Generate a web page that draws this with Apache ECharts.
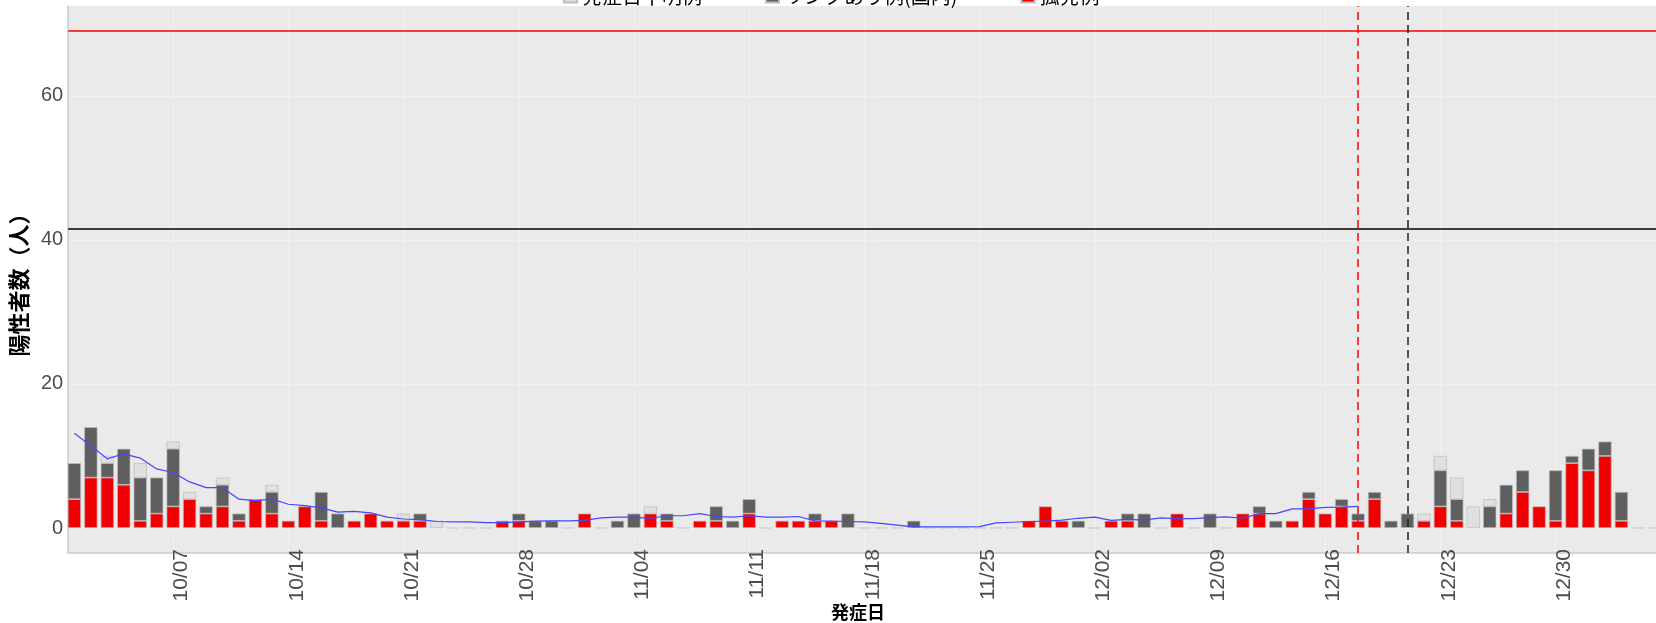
<!DOCTYPE html>
<html>
<head>
<meta charset="utf-8">
<script src="https://cdn.jsdelivr.net/npm/echarts@6/dist/echarts.min.js"></script>
<style>
html, body { margin: 0; padding: 0; background: #fff; overflow: hidden; width: 1656px; height: 623px; }
#chart { position: absolute; left: 0; top: -30px; width: 1700px; height: 653px; }
</style>
</head>
<body>
<div id="chart"></div>
<script>
// day index 0 = 10/01, one value per day
var sporadic = [
    4, 7, 7, 6, 1, 2, 3, 4, 2, 3,
    1, 4, 2, 1, 3, 1, 0, 1, 2, 1,
    1, 1, 0, 0, 0, 0, 1, 1, 0, 0,
    0, 2, 0, 0, 0, 2, 1, 0, 1, 1,
    0, 2, 0, 1, 1, 1, 1, 0, 0, 0,
    0, 0, 0, 0, 0, 0, 0, 0, 1, 3,
    1, 0, 0, 1, 1, 0, 0, 2, 0, 0,
    0, 2, 2, 0, 1, 4, 2, 3, 1, 4,
    0, 0, 1, 3, 1, 0, 0, 2, 5, 3,
    1, 9, 8, 10, 1, 0, 0
];
var linked = [
    5, 7, 2, 5, 6, 5, 8, 0, 1, 3,
    1, 0, 3, 0, 0, 4, 2, 0, 0, 0,
    0, 1, 0, 0, 0, 0, 0, 1, 1, 1,
    0, 0, 0, 1, 2, 0, 1, 0, 0, 2,
    1, 2, 0, 0, 0, 1, 0, 2, 0, 0,
    0, 1, 0, 0, 0, 0, 0, 0, 0, 0,
    0, 1, 0, 0, 1, 2, 0, 0, 0, 2,
    0, 0, 1, 1, 0, 1, 0, 1, 1, 1,
    1, 2, 0, 5, 3, 0, 3, 4, 3, 0,
    7, 1, 3, 2, 4, 0, 0
];
var unknown = [
    0, 0, 1, 0, 2, 0, 1, 1, 0, 1,
    0, 0, 1, 0, 0, 0, 0, 0, 0, 0,
    1, 0, 1, 0, 0, 0, 0, 0, 0, 0,
    0, 0, 0, 0, 0, 1, 0, 0, 0, 0,
    0, 0, 0, 0, 0, 0, 0, 0, 0, 0,
    0, 0, 0, 0, 0, 0, 0, 0, 0, 0,
    0, 0, 0, 0, 0, 0, 0, 0, 0, 0,
    0, 0, 0, 0, 0, 0, 0, 0, 0, 0,
    0, 0, 1, 2, 3, 3, 1, 0, 0, 0,
    0, 0, 0, 0, 0, 0, 0
];
var movingAvg = [
    13.15, 11.4, 9.6, 10.3, 9.7, 8.2, 7.7, 6.4, 5.6, 5.6,
    4.0, 3.8, 4.0, 3.3, 3.1, 2.8, 2.2, 2.3, 2.1, 1.5,
    1.25, 1.15, 0.9, 0.85, 0.85, 0.75, 0.75, 0.85, 0.95, 1.0,
    1.0, 1.05, 1.4, 1.5, 1.5, 1.35, 1.7, 1.7, 2.0, 1.6,
    1.5, 1.7, 1.5, 1.5, 1.6, 1.0, 0.95, 0.9, 0.85, 0.65,
    0.4, 0.15, 0.15, 0.15, 0.15, 0.2, 0.7, 0.8, 0.9, 0.95,
    1.1, 1.35, 1.5, 1.05, 1.2, 1.1, 1.4, 1.3, 1.3, 1.45,
    1.55, 1.35, 2.0, 2.0, 2.65, 2.65, 2.85, 2.9, 3.0
];
var tickDays = [6, 13, 20, 27, 34, 41, 48, 55, 62, 69, 76, 83, 90];
var tickLabels = ['10/07', '10/14', '10/21', '10/28', '11/04', '11/11', '11/18', '11/25', '12/02', '12/09', '12/16', '12/23', '12/30'];
var yTicks = [0, 20, 40, 60];
var redLimit = 69;
var blackLimit = 41.6;
var redDay = 78;
var blackDay = 81;

// value first, day second: lets ECharts stack on the value dimension
var toPairs = function (arr) {
    return arr.map(function (v, i) { return [v === 0 ? '-' : v, i]; });
};
var zeroDays = [];
for (var i = 0; i < sporadic.length; i++) {
    if (sporadic[i] + linked[i] + unknown[i] === 0) {
        zeroDays.push([i, 0]);
    }
}

var barBorder = { borderColor: '#BBBBBB', borderWidth: 0.7 };
var cjk = 'Noto Sans CJK JP';

var makeBar = function (name, color, values) {
    return {
        name: name, type: 'bar', stack: 'cases', barWidth: 13.2,
        encode: { x: 1, y: 0 },
        itemStyle: Object.assign({ color: color }, barBorder),
        data: toPairs(values)
    };
};

var chart = echarts.init(document.getElementById('chart'));
chart.setOption({
    animation: false,
    legend: {
        data: ['発症日不明例', 'リンクあり例(国内)', '孤発例'],
        left: 558,
        top: 11,
        itemWidth: 13,
        itemHeight: 13,
        itemGap: 63,
        icon: 'rect',
        textStyle: { fontSize: 20, color: '#000', fontFamily: cjk }
    },
    grid: {
        left: 63, top: 36, width: 1616, height: 547,
        show: true, backgroundColor: '#EAEAEA', borderWidth: 0
    },
    xAxis: {
        type: 'value',
        min: -0.38,
        max: 97.5,
        axisLine: { show: true, onZero: false, lineStyle: { color: '#CCCCCC', width: 1.5 } },
        axisTick: { show: false, customValues: tickDays },
        axisLabel: {
            customValues: tickDays,
            formatter: function (v) { return tickLabels[tickDays.indexOf(v)]; },
            rotate: 90,
            verticalAlign: 'top',
            lineHeight: 17,
            margin: -4,
            fontSize: 21,
            color: '#4D4D4D',
            fontFamily: 'Liberation Sans'
        },
        splitLine: { show: true, lineStyle: { color: '#F1F1F1', width: 1 } }
    },
    yAxis: {
        type: 'value',
        min: -3.47,
        max: 72.46,
        name: '陽性者数（人）',
        nameLocation: 'middle',
        nameGap: 28,
        nameTextStyle: { fontSize: 22, fontWeight: 'bold', color: '#000', fontFamily: cjk },
        axisLine: { show: true, onZero: false, lineStyle: { color: '#CCCCCC', width: 1.5 } },
        axisTick: { show: false, customValues: yTicks },
        axisLabel: { customValues: yTicks, margin: 5, fontSize: 20, color: '#4D4D4D', fontFamily: 'Liberation Sans' },
        splitLine: { show: true, lineStyle: { color: '#F1F1F1', width: 1 } }
    },
    graphic: [{
        type: 'text',
        x: 858, y: 642,
        style: {
            text: '発症日', fontSize: 18, fontWeight: 'bold', fill: '#000',
            fontFamily: cjk, align: 'center', verticalAlign: 'middle'
        }
    }],
    series: [
        makeBar('孤発例', '#F00000', sporadic),
        makeBar('リンクあり例(国内)', '#5F5F5F', linked),
        makeBar('発症日不明例', '#E0E0E0', unknown),
        {
            name: 'zero', type: 'scatter', symbol: 'rect', symbolSize: [13.2, 2],
            itemStyle: { color: '#D2D2D2' }, silent: true,
            data: zeroDays
        },
        {
            name: 'avg', type: 'line', showSymbol: false, silent: true, z: 5,
            lineStyle: { color: '#4646FF', width: 1.2 },
            data: movingAvg.map(function (v, i) { return [i, v]; }),
            markLine: {
                silent: true, symbol: 'none', label: { show: false },
                data: [
                    { yAxis: redLimit, lineStyle: { color: '#FF0000', width: 1.5, type: 'solid' } },
                    { yAxis: blackLimit, lineStyle: { color: '#000000', width: 1.5, type: 'solid' } },
                    { xAxis: redDay, lineStyle: { color: '#FF0000', width: 1.5, type: [8, 5] } },
                    { xAxis: blackDay, lineStyle: { color: '#222222', width: 1.5, type: [8, 5] } }
                ]
            }
        }
    ]
});
</script>
</body>
</html>
